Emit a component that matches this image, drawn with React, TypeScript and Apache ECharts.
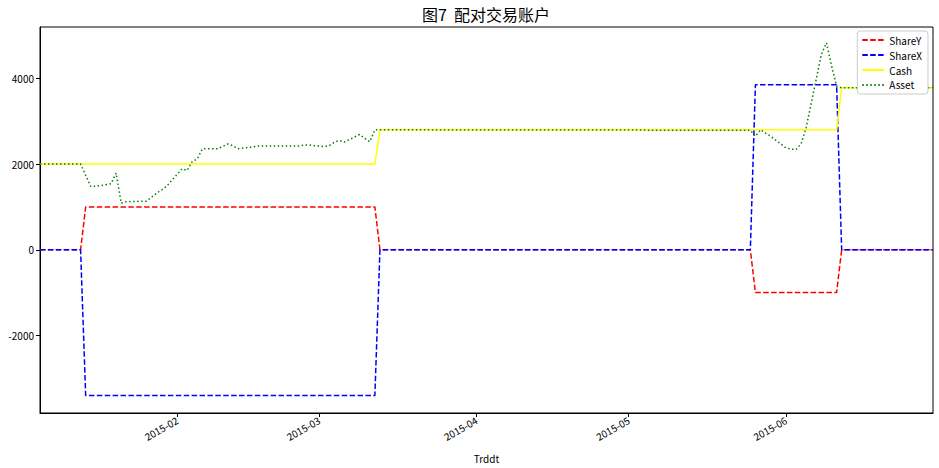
import React, { useEffect, useRef } from 'react';
import * as echarts from 'echarts';

// Position of each leg (shares held) and the account's cash / total asset, by trading day.
const shareYPoints: [string, number][] = [
  ['2015-01-05', 0], ['2015-01-13', 0], ['2015-01-14', 1000], ['2015-03-12', 1000],
  ['2015-03-13', 0], ['2015-05-25', 0], ['2015-05-26', -1000], ['2015-06-11', -1000],
  ['2015-06-12', 0], ['2015-06-30', 0],
];

const shareXPoints: [string, number][] = [
  ['2015-01-05', 0], ['2015-01-13', 0], ['2015-01-14', -3400], ['2015-03-12', -3400],
  ['2015-03-13', 0], ['2015-05-25', 0], ['2015-05-26', 3850], ['2015-06-11', 3850],
  ['2015-06-12', 0], ['2015-06-30', 0],
];

const cashPoints: [string, number][] = [
  ['2015-01-05', 2000], ['2015-03-12', 2000], ['2015-03-13', 2800],
  ['2015-06-11', 2800], ['2015-06-12', 3780], ['2015-06-30', 3780],
];

const assetPoints: [string, number][] = [
  ['2015-01-05', 2000], ['2015-01-13', 2000], ['2015-01-14', 1740], ['2015-01-15', 1480],
  ['2015-01-16', 1480], ['2015-01-19', 1540], ['2015-01-20', 1790], ['2015-01-21', 1090],
  ['2015-01-22', 1120], ['2015-01-23', 1125], ['2015-01-26', 1135], ['2015-01-27', 1230],
  ['2015-01-28', 1320], ['2015-01-29', 1400], ['2015-01-30', 1490], ['2015-02-02', 1890],
  ['2015-02-03', 1850], ['2015-02-04', 2060], ['2015-02-05', 2120], ['2015-02-06', 2355],
  ['2015-02-09', 2360], ['2015-02-10', 2410], ['2015-02-11', 2470], ['2015-02-12', 2430],
  ['2015-02-13', 2360], ['2015-02-16', 2400], ['2015-02-17', 2420], ['2015-02-25', 2420],
  ['2015-02-26', 2445], ['2015-02-27', 2445], ['2015-03-02', 2410], ['2015-03-03', 2430],
  ['2015-03-04', 2510], ['2015-03-05', 2550], ['2015-03-06', 2515], ['2015-03-09', 2690],
  ['2015-03-10', 2600], ['2015-03-11', 2520], ['2015-03-12', 2800], ['2015-03-13', 2800],
  ['2015-05-25', 2790], ['2015-05-26', 2650], ['2015-05-27', 2800], ['2015-05-28', 2720],
  ['2015-05-29', 2650], ['2015-06-01', 2380], ['2015-06-02', 2350], ['2015-06-03', 2340],
  ['2015-06-04', 2470], ['2015-06-05', 2850], ['2015-06-08', 4560], ['2015-06-09', 4830],
  ['2015-06-10', 4300], ['2015-06-11', 3820], ['2015-06-12', 3780], ['2015-06-30', 3780],
];

const monthTickDates = ['2015-02-01', '2015-03-01', '2015-04-01', '2015-05-01', '2015-06-01'];
const valueTicks = [-2000, 0, 2000, 4000];
const dateRange = ['2015-01-05', '2015-06-30'];
const valueRange = [-3810, 5200];

const FONT = '"Noto Sans CJK SC", "Noto Sans", sans-serif';

// Dates are placed on a linear millisecond scale.
const ts = (s: string) => {
  const [y, m, d] = s.split('-').map(Number);
  return Date.UTC(y, m - 1, d);
};
const toSeries = (pts: [string, number][]) => pts.map(([d, v]) => [ts(d), v]);
const fmtMonth = (v: number) => {
  const d = new Date(v);
  return `${d.getUTCFullYear()}-${String(d.getUTCMonth() + 1).padStart(2, '0')}`;
};

export default function App() {
  const ref = useRef<HTMLDivElement>(null);

  useEffect(() => {
    document.body.style.margin = '0';
    const chart = echarts.init(ref.current!, null, { renderer: 'svg' });
    const monthTicks = monthTickDates.map(ts);

    const lineSeries = (name: string, pts: [string, number][], color: string, type: any) => ({
      name,
      type: 'line',
      data: toSeries(pts),
      symbol: 'none',
      showSymbol: false,
      itemStyle: { color },
      lineStyle: { color, width: 1.5, type },
      emphasis: { disabled: true },
    });

    chart.setOption({
      animation: false,
      backgroundColor: '#ffffff',
      textStyle: { fontFamily: FONT },
      graphic: [
        {
          type: 'text',
          x: 486,
          y: 14,
          style: {
            text: '图7  配对交易账户',
            font: `16px ${FONT}`,
            fill: '#000',
            align: 'center',
            verticalAlign: 'middle',
          },
        },
      ],
      legend: {
        orient: 'vertical',
        right: 11,
        top: 31,
        itemWidth: 22,
        itemHeight: 8,
        itemGap: 5,
        padding: [4, 6, 4, 4],
        borderColor: '#cccccc',
        borderWidth: 1,
        borderRadius: 3,
        backgroundColor: '#ffffff',
        itemStyle: { opacity: 0 },
        textStyle: { fontSize: 10, fontFamily: FONT, color: '#000' },
        data: ['ShareY', 'ShareX', 'Cash', 'Asset'],
      },
      grid: {
        left: 40,
        right: 6,
        top: 27,
        bottom: 51,
        show: true,
        borderColor: '#000',
        borderWidth: 1,
        containLabel: false,
      },
      xAxis: {
        type: 'value',
        min: ts(dateRange[0]),
        max: ts(dateRange[1]),
        name: 'Trddt',
        nameLocation: 'middle',
        nameGap: 40,
        nameTextStyle: { fontSize: 10, color: '#000', fontFamily: FONT },
        axisLine: { show: true, onZero: false, lineStyle: { color: '#000', width: 1 } },
        axisTick: { show: true, customValues: monthTicks, length: 4, lineStyle: { color: '#000' } },
        axisLabel: {
          customValues: monthTicks,
          rotate: 30,
          margin: 6,
          fontSize: 10,
          color: '#000',
          fontFamily: FONT,
          formatter: (v: number) => fmtMonth(v),
        },
        splitLine: { show: false },
      },
      yAxis: {
        type: 'value',
        min: valueRange[0],
        max: valueRange[1],
        axisLine: { show: true, onZero: false, lineStyle: { color: '#000', width: 1 } },
        axisTick: { show: true, customValues: valueTicks, length: 4, lineStyle: { color: '#000' } },
        axisLabel: {
          customValues: valueTicks,
          margin: 6,
          fontSize: 10,
          color: '#000',
          fontFamily: FONT,
          formatter: (v: number) => String(v),
        },
        splitLine: { show: false },
      },
      series: [
        lineSeries('ShareY', shareYPoints, '#ff0000', [5.5, 2.4]),
        lineSeries('ShareX', shareXPoints, '#0000ff', [5.5, 2.4]),
        lineSeries('Cash', cashPoints, '#ffff00', 'solid'),
        lineSeries('Asset', assetPoints, '#008000', [1.5, 2.5]),
      ],
    });

    return () => chart.dispose();
  }, []);

  return <div ref={ref} style={{ width: 939, height: 468 }} />;
}
